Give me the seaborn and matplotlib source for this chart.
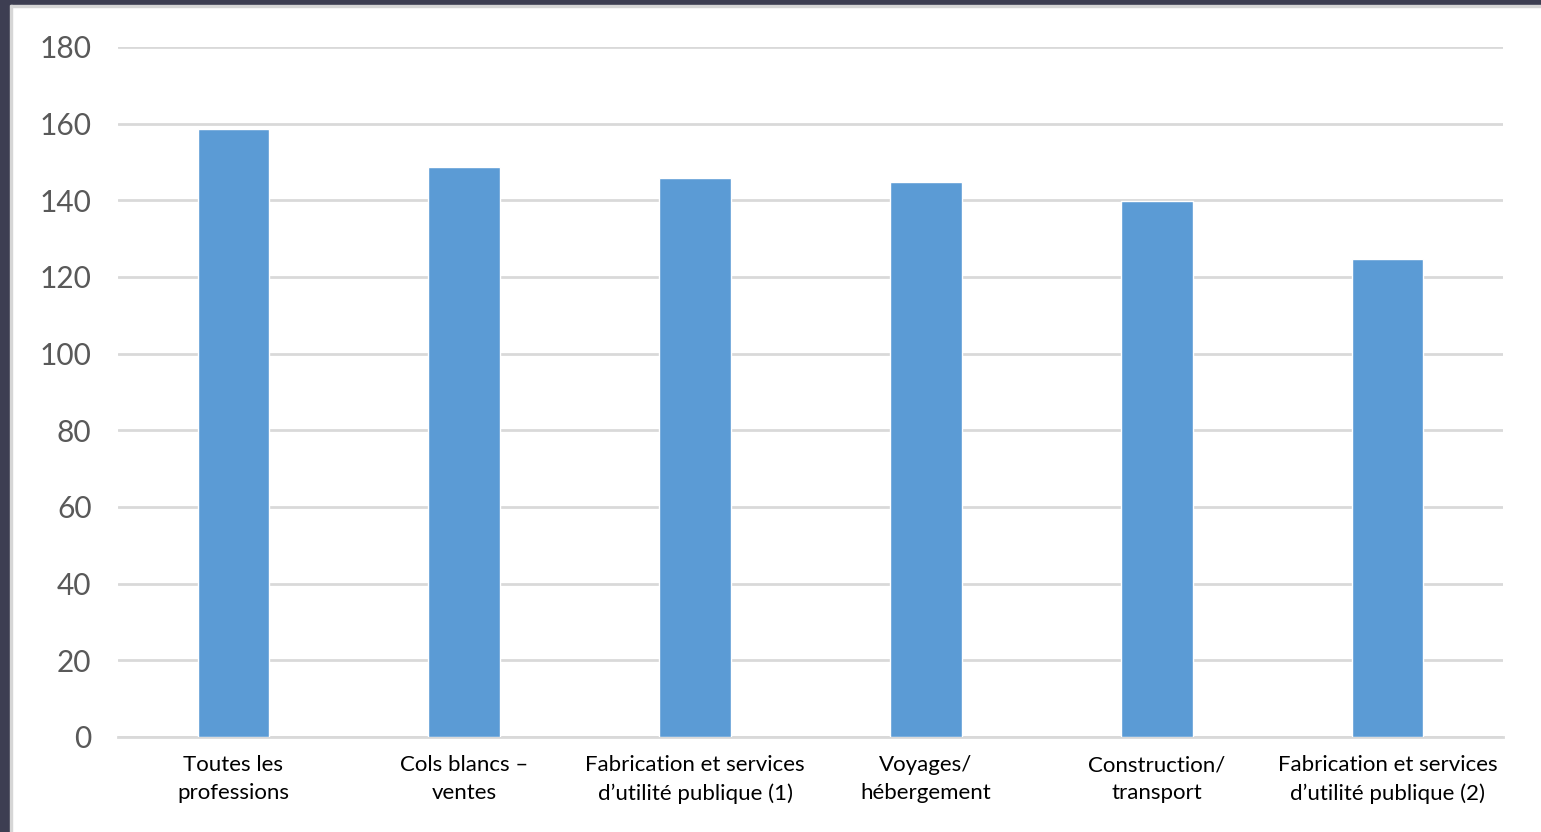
import matplotlib
matplotlib.use("Agg")
import matplotlib.pyplot as plt
from matplotlib.patches import Rectangle
import seaborn as sns
import pandas as pd

categories = [
    "Toutes les\nprofessions",
    "Cols blancs –\nventes",
    "Fabrication et services\nd’utilité publique (1)",
    "Voyages/\nhébergement",
    "Construction/\ntransport",
    "Fabrication et services\nd’utilité publique (2)",
]
values = [158.5, 148.8, 145.9, 144.9, 139.7, 124.8]
y_ticks = [0, 20, 40, 60, 80, 100, 120, 140, 160, 180]

sns.set_theme(style="white")
plt.rcParams["font.family"] = ["Lato", "DejaVu Sans"]

W, H = 1541, 832
fig = plt.figure(figsize=(W / 100, H / 100), dpi=100)
fig.patch.set_facecolor("white")

# window-style dark frame along the top and left edges
frame = "#3d3e52"
fig.add_artist(Rectangle((0, 1 - 5 / H), 1, 5 / H, transform=fig.transFigure,
                         color=frame, zorder=0))
fig.add_artist(Rectangle((0, 1 - 7 / H), 1, 2 / H, transform=fig.transFigure,
                         color="#d6d6d6", zorder=0))
fig.add_artist(Rectangle((0, 0), 10 / W, 1, transform=fig.transFigure,
                         color=frame, zorder=1))
fig.add_artist(Rectangle((10 / W, 0), 2 / W, 1 - 5 / H, transform=fig.transFigure,
                         color="#d6d6d6", zorder=1))

ax = fig.add_axes([118 / W, 1 - 737 / H, (1503 - 118) / W, (737 - 47) / H])
df = pd.DataFrame({"cat": categories, "val": values})
sns.barplot(data=df, x="cat", y="val", color="#5B9BD5", saturation=1,
            width=0.31, ax=ax, zorder=3)

ax.set_xlim(-0.5, len(categories) - 0.5)
ax.set_ylim(0, 180)
ax.set_yticks(y_ticks)
ax.set_yticklabels([str(t) for t in y_ticks])
ax.yaxis.grid(True, color="#d9d9d9", linewidth=2, zorder=0)
ax.set_axisbelow(True)
for s in ["top", "right", "left"]:
    ax.spines[s].set_visible(False)
ax.spines["bottom"].set_color("#d9d9d9")
ax.spines["bottom"].set_linewidth(2)
ax.set_xlabel("")
ax.set_ylabel("")
ax.tick_params(axis="y", length=0, pad=19, labelsize=21.5, labelcolor="#595959")
ax.tick_params(axis="x", length=0, pad=13, labelsize=16, labelcolor="#000000")
for lbl in ax.get_xticklabels():
    lbl.set_linespacing(1.5)

fig.savefig("out.png", dpi=100, facecolor="white")
